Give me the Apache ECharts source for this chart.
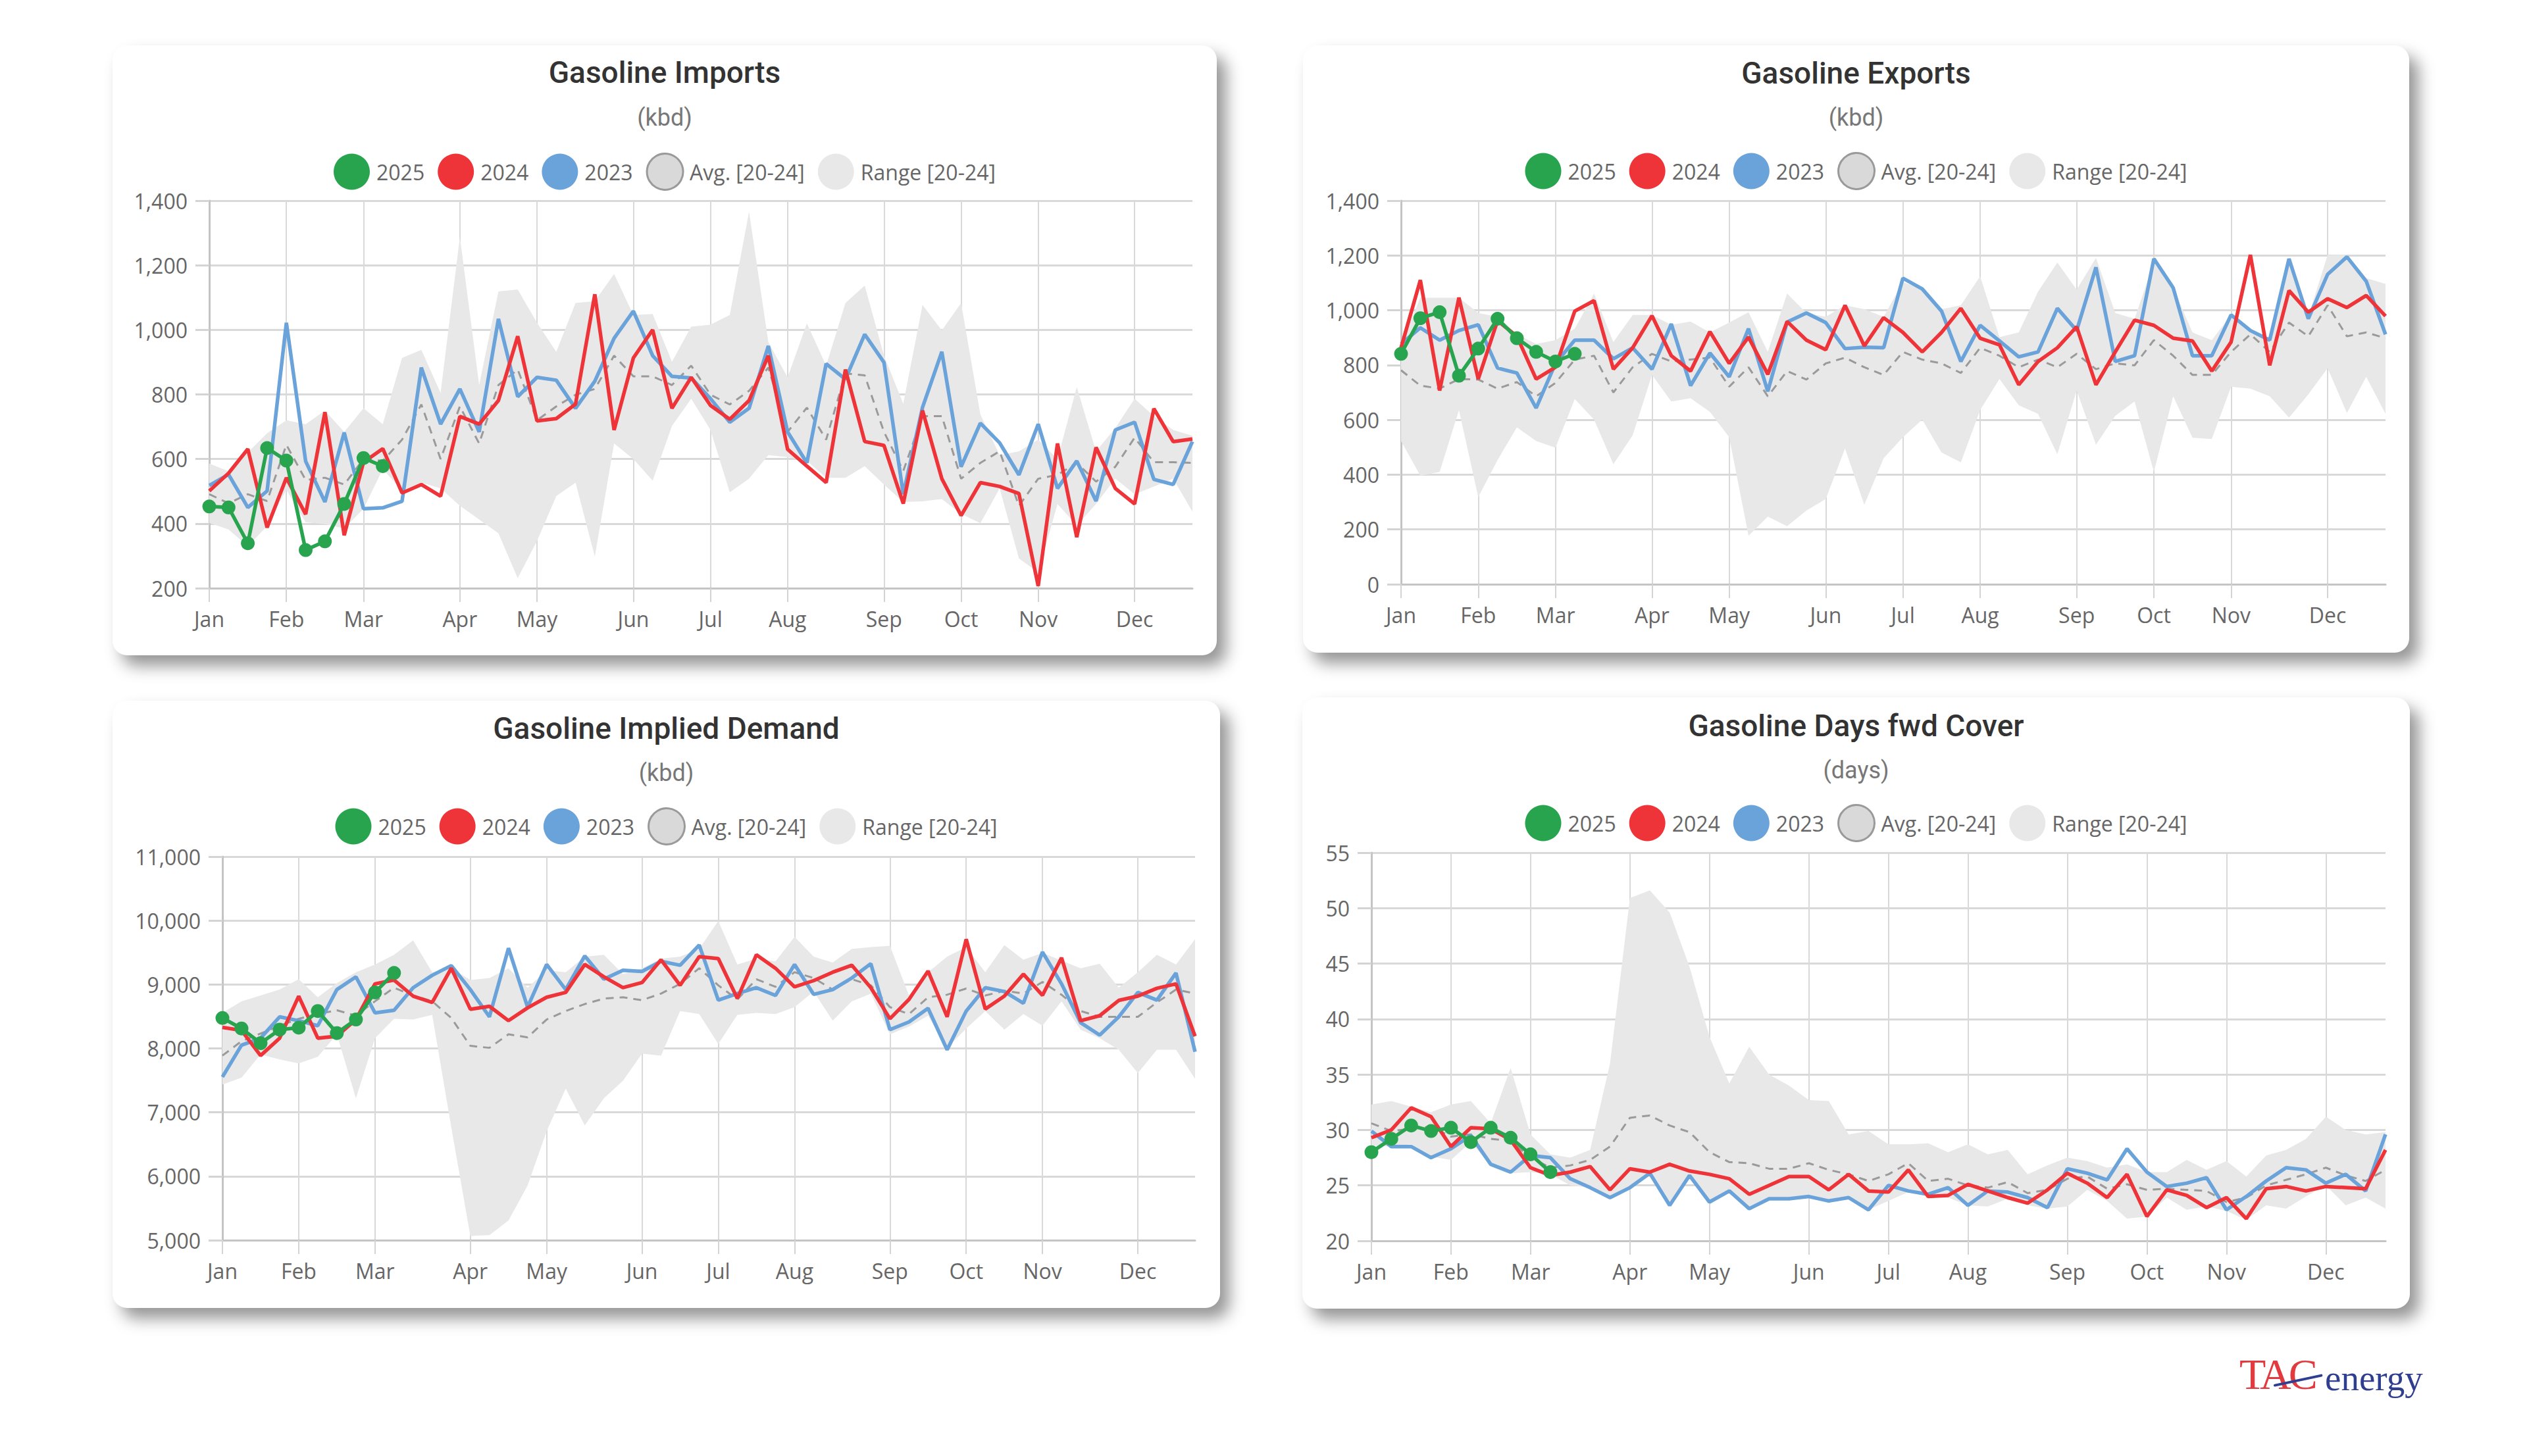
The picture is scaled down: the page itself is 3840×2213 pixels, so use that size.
<!DOCTYPE html>
<html><head><meta charset="utf-8">
<script src="https://cdn.jsdelivr.net/npm/echarts/dist/echarts.min.js"></script>
<style>
html,body{margin:0;padding:0;background:#fff;width:3840px;height:2213px;overflow:hidden;}
.card{position:absolute;background:#fff;border-radius:22px;box-shadow:14px 16px 24px rgba(0,0,0,0.42);}
.chart{position:absolute;left:0;top:0;width:100%;height:100%;}
.tac{position:absolute;left:3403px;top:2056px;font-family:'Liberation Serif','DejaVu Serif',serif;font-size:66px;line-height:66px;color:#e13b40;letter-spacing:-4px;}
.en{position:absolute;left:3533px;top:2067px;font-family:'Liberation Serif','DejaVu Serif',serif;font-size:55px;line-height:55px;color:#2f3e8e;}
.sw{position:absolute;left:3455px;top:2104px;width:76px;height:4px;background:#2f3e8e;border-radius:2px;transform:rotate(-12deg);transform-origin:left center;}
</style></head>
<body>
<div class="card" id="c1" style="left:171px;top:69px;width:1678px;height:927px;"><div class="chart" id="g1"></div></div>
<div class="card" id="c2" style="left:1980px;top:69px;width:1681px;height:923px;"><div class="chart" id="g2"></div></div>
<div class="card" id="c3" style="left:171px;top:1065px;width:1683px;height:923px;"><div class="chart" id="g3"></div></div>
<div class="card" id="c4" style="left:1979px;top:1060px;width:1683px;height:929px;"><div class="chart" id="g4"></div></div>
<div class="tac">TAC</div><div class="en">energy</div><div class="sw"></div>
<script>
// ---- categories ----
const weeks = ['W01','W02','W03','W04','W05','W06','W07','W08','W09','W10','W11','W12','W13','W14','W15','W16','W17','W18','W19','W20','W21','W22','W23','W24','W25','W26','W27','W28','W29','W30','W31','W32','W33','W34','W35','W36','W37','W38','W39','W40','W41','W42','W43','W44','W45','W46','W47','W48','W49','W50','W51','W52'];
const monthStarts = [0,4,8,13,17,22,26,30,35,39,43,48];
const monthNames = ['Jan','Feb','Mar','Apr','May','Jun','Jul','Aug','Sep','Oct','Nov','Dec'];

// ---- Gasoline Imports (kbd) ----
const imp2025 = [453,450,339,634,595,318,345,461,603,578];
const imp2024 = [501,556,631,388,542,429,745,364,590,632,495,521,485,732,708,781,980,718,725,770,1110,690,913,1000,757,853,766,723,781,920,630,578,527,877,654,642,462,750,539,425,527,515,493,207,648,358,636,509,461,756,654,662];
const imp2023 = [518,552,450,501,1022,593,467,682,446,449,469,883,708,817,684,1034,793,853,844,757,841,974,1058,920,856,851,787,714,757,950,684,588,895,847,986,899,491,760,932,576,711,650,551,708,509,594,470,690,714,537,521,654];
const impAvg = [491,463,491,470,644,535,542,521,600,594,660,769,600,763,648,829,877,720,763,799,817,920,856,856,829,889,799,769,811,883,684,759,660,865,859,684,563,733,733,539,588,624,455,539,551,588,530,576,666,590,590,588];
const impMax = [586,562,620,680,720,708,750,684,757,708,913,938,805,1288,829,1119,1125,1022,932,1083,1089,1173,1046,1049,901,1010,1016,1046,1366,962,853,1020,889,1083,1137,920,771,1077,998,1083,738,612,624,660,600,823,624,696,787,733,690,672];
const impMin = [402,382,330,392,505,404,398,385,446,569,503,527,509,455,413,370,231,346,485,527,298,648,600,533,702,787,690,497,539,612,606,594,542,542,578,521,467,469,476,430,401,509,292,249,461,394,461,539,491,515,539,437];

// ---- Gasoline Exports (kbd) ----
const exp2025 = [841,971,993,761,860,969,898,848,813,841];
const exp2024 = [863,1110,707,1046,749,962,905,749,792,997,1035,785,863,980,834,778,922,806,902,766,959,891,856,1018,870,973,919,848,919,1007,898,874,728,813,863,940,728,848,964,945,898,888,778,884,1202,799,1072,993,1042,1010,1054,979];
const exp2023 = [877,936,891,926,947,789,771,643,806,891,891,823,863,785,950,725,844,757,933,704,957,990,955,860,865,863,1117,1078,997,813,945,888,830,848,1007,926,1157,813,834,1188,1082,834,834,983,926,891,1188,969,1131,1195,1106,912];
const expAvg = [781,725,714,749,747,714,738,686,735,820,834,700,792,841,813,820,827,721,792,686,778,747,806,827,792,764,848,820,806,771,863,834,792,820,792,841,785,806,799,891,834,764,764,848,912,848,955,905,1018,905,919,898];
const expMax = [877,1046,1046,1046,990,976,912,877,891,933,1061,884,983,983,947,959,919,955,993,848,1061,990,976,1018,1004,976,1103,1078,1004,1018,1124,902,919,1068,1174,1075,1191,990,969,1174,1082,919,891,983,933,891,1191,976,1202,1202,1117,1096];
const expMin = [523,396,410,636,318,453,573,523,498,676,601,438,544,764,667,679,629,537,177,247,212,269,311,495,290,460,537,601,481,445,636,749,653,622,474,707,509,615,667,410,686,535,530,721,714,686,608,693,789,625,757,622];

// ---- Gasoline Implied Demand (kbd) ----
const dem2025 = [8476,8312,8082,8294,8324,8585,8240,8452,8876,9180];
const dem2024 = [8330,8282,7888,8160,8818,8160,8191,8452,9010,9070,8818,8720,9254,8613,8658,8434,8634,8800,8876,9313,9120,8950,9030,9386,8987,9435,9405,8782,9465,9254,8963,9060,9192,9301,8950,8464,8767,9210,8494,9708,8616,8818,9162,8830,9417,8434,8512,8751,8818,8940,9010,8191];
const dem2023 = [7554,8051,8160,8494,8434,8355,8920,9120,8555,8597,8950,9144,9295,8920,8494,9568,8646,9313,8920,9447,9083,9222,9204,9362,9301,9617,8755,8858,8950,8828,9313,8846,8920,9101,9326,8294,8415,8628,7979,8585,8950,8889,8707,9507,9010,8403,8209,8494,8876,8755,9180,7948];
const demAvg = [7888,8112,8233,8355,8464,8537,8597,8512,8737,8950,8828,8737,8476,8040,8009,8221,8173,8452,8585,8694,8779,8800,8755,8858,9010,9254,8987,8767,9083,8963,9192,9101,8920,9083,8987,8646,8537,8800,8840,8937,8828,8901,8858,9040,8840,8585,8494,8494,8494,8720,8920,8858];
const demMax = [8555,8737,8828,8920,9083,8800,9022,9192,9313,9465,9690,9192,9254,9070,9100,9254,8950,9222,9192,9435,9465,9162,9254,9405,9435,9556,9993,9313,9405,9362,9745,9435,9344,9556,9586,9605,8828,9192,9435,9586,9192,9617,9386,9496,9374,9254,9326,8950,9192,9465,9313,9708];
const demMin = [7433,7542,7906,7827,7767,7870,8221,7220,8160,8464,8452,8525,6765,5066,5079,5309,5855,6705,7372,6796,7220,7493,7918,7888,8585,8537,8070,8525,8555,8537,8646,8889,8434,8737,8858,8221,8343,8512,8009,8312,8585,8294,8537,8355,8737,8294,8160,7979,7615,7979,7979,7524];

// ---- Gasoline Days fwd Cover (days) ----
const day2025 = [28.0,29.2,30.4,29.9,30.2,28.9,30.2,29.3,27.8,26.2];
const day2024 = [29.3,30.0,32.0,31.2,28.5,30.2,30.1,29.1,26.6,25.9,26.2,26.7,24.6,26.5,26.2,26.9,26.3,26.0,25.6,24.2,25.0,25.8,25.8,24.6,26.0,24.5,24.4,26.4,24.0,24.1,25.1,24.5,23.9,23.4,24.6,26.1,25.2,23.9,26.0,22.2,24.6,24.1,23.0,23.9,22.0,24.7,24.9,24.5,24.9,24.8,24.7,28.2];
const day2023 = [29.9,28.5,28.5,27.5,28.3,29.5,26.9,26.2,27.7,27.5,25.6,24.8,23.9,24.8,26.1,23.2,25.9,23.5,24.5,22.9,23.8,23.8,24.0,23.6,23.9,22.8,25.0,24.5,24.2,24.8,23.2,24.5,24.4,23.9,23.0,26.5,26.1,25.5,28.3,26.2,24.9,25.2,25.7,22.8,24.0,25.4,26.6,26.4,25.2,26.0,24.5,29.6];
const dayAvg = [30.6,29.9,30.1,30.3,29.4,29.6,29.2,29.0,27.5,26.6,26.8,27.3,28.5,31.1,31.3,30.4,29.8,28.0,27.1,27.0,26.5,26.5,27.0,26.4,26.0,25.4,26.0,27.0,25.4,25.6,25.0,24.8,25.3,24.3,24.6,25.6,25.8,24.7,25.1,24.6,24.7,24.6,24.5,23.5,23.9,25.0,25.5,26.0,26.6,25.9,25.4,26.4];
const dayMax = [32.3,32.6,32.1,31.6,32.3,32.6,30.6,35.6,29.6,27.8,27.5,28.2,36.0,50.9,51.6,49.6,44.7,38.4,34.2,37.5,35.0,34.0,32.7,32.6,29.6,29.9,28.7,28.7,28.8,28.0,28.7,27.8,28.2,26.0,26.8,27.5,27.2,26.6,26.9,26.2,26.2,27.3,26.4,27.2,25.8,27.7,28.2,29.2,31.2,30.0,29.6,29.8];
const dayMin = [28.6,28.5,28.7,27.6,27.3,28.9,26.8,26.1,26.2,26.0,25.0,24.8,23.9,24.8,26.1,23.2,25.9,23.5,24.5,22.9,23.8,23.8,24.0,23.6,23.9,22.8,23.6,24.4,24.0,23.9,23.2,23.1,23.8,23.2,22.9,23.1,24.6,23.6,22.0,22.2,23.9,22.8,23.1,22.7,21.9,23.2,22.9,24.0,25.0,23.2,23.9,22.9];

const C25 = '#28a44f', C24 = '#ee3438', C23 = '#6aa2da', CAVG = '#9a9a9a', CRANGE = '#e8e8e8';
const isMonth = (i) => monthStarts.indexOf(i) >= 0;

function build(p) {
  const diff = p.max.map((v, i) => +(v - p.min[i]).toFixed(3));
  return {
    animation: false,
    title: [
      {text: p.title, left: 'center', top: p.tTop, padding: 0,
       textStyle: {fontFamily: 'Roboto', fontWeight: 500, fontSize: 46, lineHeight: 54, color: '#333'}},
      {text: p.unit, left: 'center', top: p.sTop, padding: 0,
       textStyle: {fontFamily: 'Roboto', fontWeight: 'normal', fontSize: 36, lineHeight: 42, color: '#777'}}
    ],
    legend: {
      top: p.lTop, left: 'center', padding: 0, icon: 'circle', itemWidth: 55, itemHeight: 55, itemGap: 20,
      textStyle: {fontFamily: 'Open Sans', fontSize: 32, color: '#666', padding: [0, 0, 0, 5]},
      data: [
        {name: '2025'}, {name: '2024'}, {name: '2023'},
        {name: 'Avg. [20-24]', itemStyle: {color: '#d9d9d9', borderColor: '#9a9a9a', borderWidth: 3}},
        {name: 'Range [20-24]', itemStyle: {color: CRANGE}}
      ]
    },
    grid: {left: p.grid[0], right: p.grid[1], top: p.grid[2], bottom: p.grid[3], containLabel: false, outerBoundsMode: 'none'},
    xAxis: {
      type: 'category', boundaryGap: false, data: weeks,
      axisLine: {lineStyle: {color: '#c4c4c4', width: 3}},
      axisTick: {show: true, length: 21, interval: isMonth, lineStyle: {color: '#d4d4d4', width: 2}},
      axisLabel: {interval: isMonth, formatter: (v, i) => monthNames[monthStarts.indexOf(i)] || '',
                  margin: 30, fontFamily: 'Open Sans', fontSize: 32, color: '#666'},
      splitLine: {show: true, interval: isMonth, lineStyle: {color: '#d9d9d9', width: 2}}
    },
    yAxis: {
      type: 'value', min: p.yMin, max: p.yMax, interval: p.yInt,
      axisLine: {show: true, lineStyle: {color: '#c4c4c4', width: 3}},
      axisTick: {show: true, length: 21, lineStyle: {color: '#d4d4d4', width: 3}},
      axisLabel: {margin: 33, fontFamily: 'Open Sans', fontSize: 32, color: '#666',
                  formatter: (v) => v.toLocaleString('en-US')},
      splitLine: {show: true, lineStyle: {color: '#d9d9d9', width: 3}}
    },
    series: [
      {name: 'rangeBase', type: 'line', stack: 'range', data: p.min, symbol: 'none', silent: true,
       lineStyle: {width: 0, opacity: 0}, itemStyle: {color: CRANGE}},
      {name: 'Range [20-24]', type: 'line', stack: 'range', data: diff, symbol: 'none', silent: true,
       lineStyle: {width: 0, opacity: 0}, areaStyle: {color: CRANGE, opacity: 1}, itemStyle: {color: CRANGE}},
      {name: 'Avg. [20-24]', type: 'line', data: p.avg, symbol: 'none',
       lineStyle: {color: CAVG, width: 3, type: [12, 9]}, itemStyle: {color: '#d9d9d9'}},
      {name: '2023', type: 'line', data: p.y23, symbol: 'none', lineStyle: {color: C23, width: 5.5}, itemStyle: {color: C23}},
      {name: '2024', type: 'line', data: p.y24, symbol: 'none', lineStyle: {color: C24, width: 5.5}, itemStyle: {color: C24}},
      {name: '2025', type: 'line', data: p.y25, symbol: 'circle', symbolSize: 21, showSymbol: true, showAllSymbol: true,
       lineStyle: {color: C25, width: 5.5}, itemStyle: {color: C25}}
    ]
  };
}

const panels = [
  {el: 'g1', title: 'Gasoline Imports', unit: '(kbd)', tTop: 14, sTop: 89, lTop: 163, grid: [147, 37, 236, 102],
   yMin: 200, yMax: 1400, yInt: 200, y25: imp2025, y24: imp2024, y23: imp2023, avg: impAvg, max: impMax, min: impMin},
  {el: 'g2', title: 'Gasoline Exports', unit: '(kbd)', tTop: 15, sTop: 89, lTop: 162, grid: [149, 36, 236, 104],
   yMin: 0, yMax: 1400, yInt: 200, y25: exp2025, y24: exp2024, y23: exp2023, avg: expAvg, max: expMax, min: expMin},
  {el: 'g3', title: 'Gasoline Implied Demand', unit: '(kbd)', tTop: 15, sTop: 89, lTop: 162, grid: [167, 38, 237, 103],
   yMin: 5000, yMax: 11000, yInt: 1000, y25: dem2025, y24: dem2024, y23: dem2023, avg: demAvg, max: demMax, min: demMin},
  {el: 'g4', title: 'Gasoline Days fwd Cover', unit: '(days)', tTop: 16, sTop: 90, lTop: 162, grid: [105, 37, 236, 103],
   yMin: 20, yMax: 55, yInt: 5, y25: day2025, y24: day2024, y23: day2023, avg: dayAvg, max: dayMax, min: dayMin}
];

panels.forEach(p => {
  const chart = echarts.init(document.getElementById(p.el), null, {renderer: 'svg'});
  chart.setOption(build(p));
});
</script>
</body></html>
